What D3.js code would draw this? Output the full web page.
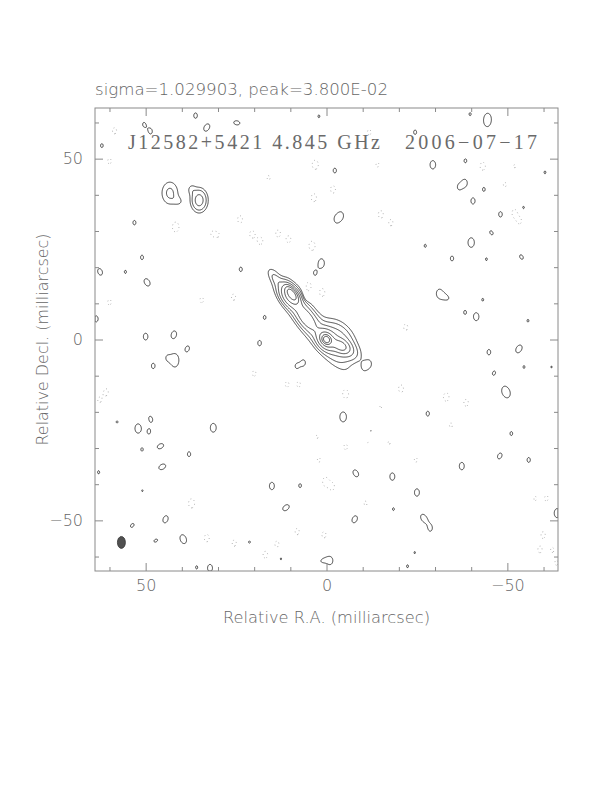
<!DOCTYPE html>
<html>
<head>
<meta charset="utf-8">
<script src="https://cdn.jsdelivr.net/npm/d3@7"></script>
<style>
body { margin: 0; background: #fff; }
</style>
</head>
<body>
<div id="content"></div>
<script>
const map_title = "sigma=1.029903, peak=3.800E-02";
const source_label = "J12582+5421 4.845 GHz";
const date_label = "2006\u221207\u221217";
const x_label = "Relative R.A. (milliarcsec)";
const y_label = "Relative Decl. (milliarcsec)";

const map_extent = [64, -64];
const major_ticks = [50, 0, -50];
const minor_ticks = [60, 40, 30, 20, 10, -10, -20, -30, -40, -60];

// contour levels, in units of the lowest contour
const pos_levels = [1, 2, 4, 8, 16, 32, 64, 128];
const neg_levels = [1];

// restoring beam: major, minor (mas), pa (deg)
const beam = [3.3, 2.2, 0];
const beam_pos = [56.7, -56.1];

// extended emission: ra, dec, peak, major, minor, pa
const jet_components = [
    [0.0, 0.0, 95, 1.6, 1.3, 37],
    [0.0, 0.0, 25, 4.0, 3.0, 37],
    [-4.0, -1.8, 17, 3.6, 2.4, 60],
    [-3.2, -0.1, 6, 8.0, 5.5, 37],
    [-6.5, -3.5, 2, 5.0, 3.5, 60],
    [5.6, 5.9, 10, 6.0, 2.8, 37],
    [9.6, 12.6, 40, 3.0, 1.4, 37],
    [9.9, 11.9, 20, 5.0, 3.0, 37],
    [5.1, 5.5, 4.5, 22, 4.5, 37],
    [13.9, 16.5, 1.5, 4.0, 1.6, 37],
    [43.3, 40.5, 2.35, 5.4, 3.9, 0],
    [41.0, 38.3, 1.0, 2.5, 2.0, 60],
    [35.2, 38.5, 5.5, 4.5, 3.2, 0],
    [37.3, 41.5, 1.2, 2.5, 2.0, 0]
];

// beam sized islands: ra, dec, peak, pa
const pos_islands = [
    [36.2, 61.9, 1.15, 0], [33.1, 58.6, 1.35, -30], [24.8, 59.9, 1.2, 80],
    [2.1, 61.7, 1.04, 0], [-39.7, 62.3, 1.05, 0], [-44.6, 61.4, 1.1, 0],
    [-44.4, 60.0, 1.1, 0], [50.5, 59.5, 1.04, 0], [48.6, 57.5, 1.1, 0],
    [62.1, 53.6, 1.08, 0], [-24.5, 57.3, 1.1, 0], [-29.4, 48.3, 1.4, 0],
    [-2.3, 46.7, 1.12, 0], [-38.4, 49.4, 1.08, 0], [-60.4, 46.2, 1.04, 0],
    [-38.3, 43.3, 1.2, 0], [-36.6, 42.1, 1.03, 0], [-43.5, 41.5, 1.08, 0],
    [-40.5, 38.3, 1.2, 0], [-48.1, 34.6, 1.15, 0], [-54.4, 36.4, 1.08, 0],
    [-45.6, 29.5, 1.1, 30], [-40.0, 26.8, 1.55, 0], [-27.3, 25.9, 1.05, 0],
    [-34.7, 22.4, 1.12, 0], [-44.2, 22.2, 1.04, 0], [-53.9, 22.8, 1.12, 30],
    [-31.2, 12.8, 1.2, 0], [-32.9, 11.7, 1.25, 60], [-43.2, 11.0, 1.04, 0],
    [-38.3, 7.5, 1.08, 0], [-41.4, 6.3, 1.35, 0], [-55.7, 5.2, 1.04, 0],
    [-44.9, -3.5, 1.15, 0], [-53.2, -2.6, 1.4, -30], [-54.6, -7.6, 1.04, 0],
    [-62.2, -7.6, 1.02, 0], [-46.3, -9.3, 1.1, -20], [-10.4, -7.6, 1.04, 0],
    [-11.9, -6.7, 1.04, 0], [47.9, -7.3, 1.15, 0], [44.0, -5.1, 1.05, 0],
    [41.9, -6.4, 1.1, 0], [41.9, -5.1, 1.03, 0], [38.5, -2.6, 1.2, -20],
    [50.0, 0.8, 1.25, 0], [42.2, 1.3, 1.35, -15], [18.5, -1.0, 1.15, 0],
    [17.1, 6.1, 1.08, 0], [6.3, -6.4, 1.1, 0], [8.3, -7.4, 1.04, 0],
    [49.6, 15.8, 1.35, 30], [62.6, 18.7, 1.25, 20], [55.6, 18.7, 1.05, 0],
    [23.7, 19.4, 1.1, 0], [63.7, 5.7, 1.2, 0], [51.0, 22.7, 1.1, 0],
    [53.1, 32.3, 1.1, 0], [-2.7, 33.2, 1.12, 0], [-4.1, 34.3, 1.12, 0],
    [1.4, 21.1, 1.45, 0], [3.2, 18.3, 1.1, 0],
    [48.6, -21.9, 1.12, 20], [52.1, -24.6, 1.5, 0], [49.1, -25.5, 1.1, 0],
    [31.3, -24.4, 1.45, 0], [57.9, -22.8, 1.03, 0], [51.0, -30.4, 1.06, 0],
    [45.9, -29.5, 1.25, -60], [38.0, -31.7, 1.12, 0], [45.4, -35.2, 1.3, -60],
    [63.0, -36.7, 1.05, 0], [50.9, -41.8, 1.02, 0], [44.5, -49.7, 1.3, -20],
    [53.7, -51.4, 1.1, -40], [47.2, -55.6, 1.08, -60], [39.6, -55.2, 1.5, 20],
    [32.2, -63.2, 1.3, 0], [35.9, -63.0, 1.05, 0], [21.3, -56.0, 1.03, 0],
    [12.6, -60.6, 1.03, 0], [15.1, -40.5, 1.3, 0], [7.3, -40.4, 1.08, 0],
    [11.2, -46.5, 1.3, -50], [0.9, -61.1, 1.1, -70], [-1.1, -61.3, 1.1, 0],
    [-4.6, -21.4, 1.6, 0], [-12.2, -25.5, 1.1, 0], [-28.0, -20.5, 1.12, 0],
    [-49.1, -14.0, 1.12, 0], [-50.2, -15.1, 1.03, 0], [-51.1, -26.0, 1.08, 0],
    [-37.4, -35.0, 1.3, 0], [-47.9, -32.2, 1.2, -25], [-55.9, -33.3, 1.12, 0],
    [-8.1, -37.0, 1.3, 30], [-18.2, -37.9, 1.3, 0], [-25.0, -42.3, 1.3, 0],
    [-18.5, -46.9, 1.04, 0], [-55.7, -42.3, 1.04, 0], [-7.8, -49.7, 1.3, -25],
    [-26.9, -49.4, 1.4, 30], [-28.7, -52.2, 1.15, 0], [-63.8, -48.0, 1.5, 0],
    [-24.4, -58.9, 1.02, 0], [-22.4, -62.7, 1.04, 0]
];

const neg_islands = [
    [58.6, 57.7, 1.2, 0], [60.0, 49.3, 1.15, 0], [-11.8, 57.3, 1.15, 0],
    [3.1, 48.3, 1.5, 0], [-14.1, 48.3, 1.1, 0], [-43.2, 47.9, 1.35, 0],
    [-52.0, 47.9, 1.05, 0], [-49.3, 42.8, 1.1, 0], [-1.8, 41.5, 1.3, 0],
    [3.5, 39.2, 1.35, 0], [16.0, 44.7, 1.1, 0], [41.7, 31.1, 1.6, 0],
    [30.8, 29.1, 1.5, 70], [23.9, 33.2, 1.3, 0], [20.6, 29.1, 1.3, 0],
    [18.3, 27.2, 1.35, 0], [13.4, 29.3, 1.25, 0], [10.5, 27.7, 1.25, 0],
    [4.0, 25.9, 1.5, 0], [-15.0, 34.6, 1.3, 0], [-17.8, 32.3, 1.2, 0],
    [-52.0, 35.0, 1.3, 0], [-53.4, 32.8, 1.15, 0], [4.9, 14.9, 1.3, 0],
    [5.8, 11.7, 1.2, 0], [1.2, 13.0, 1.35, 0], [11.9, 19.9, 1.15, 0],
    [25.7, 11.7, 1.2, 0], [34.5, 10.9, 1.15, 0], [60.0, 10.3, 1.15, 0],
    [-21.9, 3.4, 1.2, 0], [20.0, -9.4, 1.15, 0], [37.3, -45.3, 1.5, 0],
    [33.1, -54.9, 1.3, 0], [25.5, -56.3, 1.2, 0], [16.9, -59.5, 1.25, 0],
    [13.7, -56.6, 1.2, 0], [8.1, -53.1, 1.2, 0], [0.7, -54.0, 1.2, 0],
    [0.3, -39.3, 1.4, 0], [-1.6, -40.7, 1.2, 0], [2.1, -33.3, 1.1, 0],
    [2.6, -26.9, 1.05, 0], [10.9, -12.4, 1.15, 0], [7.7, -12.4, 1.15, 0],
    [60.9, -14.5, 1.2, 0], [62.8, -16.8, 1.1, 0], [-5.3, -15.0, 1.5, 0],
    [-5.3, -29.7, 1.15, 0], [-11.5, -28.3, 1.1, 0], [-17.3, -28.6, 1.05, 0],
    [-20.6, -13.6, 1.3, 0], [-15.0, -18.6, 1.05, 0], [-33.1, -15.9, 1.4, 0],
    [-38.6, -17.5, 1.25, 0], [-34.4, -23.7, 1.1, 0], [-24.7, -33.3, 1.1, 0],
    [-57.6, -43.9, 1.15, 0], [-60.8, -43.9, 1.15, 0], [-10.8, -45.3, 1.1, 0],
    [-59.9, -54.0, 1.2, 0], [-59.0, -58.1, 1.2, 0], [-62.4, -58.1, 1.1, 0],
    [-63.6, -61.8, 1.1, 0]
];

const svg_width = 612, svg_height = 792;
const plot_left = 95, plot_right = 558, plot_top = 108, plot_bottom = 571;
const line_grey = "#8a8a8a";
const text_grey = "#666";

var x = d3.scaleLinear().domain(map_extent).range([plot_left, plot_right]);
var y = d3.scaleLinear().domain(map_extent).range([plot_top, plot_bottom]);

var svg = d3
    .select("#content")
    .append("svg")
    .attr("width", svg_width)
    .attr("height", svg_height)
    .style("background", "#fff");

// sample the map on a grid
const step = 0.2;
const n = Math.round((map_extent[0] - map_extent[1]) / step);
var grid = new Float64Array(n * n);

function add_gauss(ra0, dec0, amp, maj, min, pa) {
    var t = pa * Math.PI / 180, s = Math.sin(t), c = Math.cos(t);
    var k = 4 * Math.LN2;
    var r = maj * 2;
    var i0 = Math.max(0, Math.floor((map_extent[0] - ra0 - r) / step));
    var i1 = Math.min(n - 1, Math.ceil((map_extent[0] - ra0 + r) / step));
    var j0 = Math.max(0, Math.floor((map_extent[0] - dec0 - r) / step));
    var j1 = Math.min(n - 1, Math.ceil((map_extent[0] - dec0 + r) / step));
    for (var j = j0; j <= j1; j += 1) {
        var dy = map_extent[0] - (j + 0.5) * step - dec0;
        for (var i = i0; i <= i1; i += 1) {
            var dx = map_extent[0] - (i + 0.5) * step - ra0;
            var a = dx * s + dy * c;
            var b = dx * c - dy * s;
            grid[j * n + i] += amp * Math.exp(-k * (a * a / (maj * maj) + b * b / (min * min)));
        }
    }
}

jet_components.forEach(d => add_gauss(d[0], d[1], d[2], d[3], d[4], d[5]));
pos_islands.forEach(d => add_gauss(d[0], d[1], d[2], beam[0], beam[1], d[3]));
neg_islands.forEach(d => add_gauss(d[0], d[1], -d[2], beam[0], beam[1], d[3]));

var grid_path = d3.geoPath(d3.geoTransform({
    point: function (gx, gy) {
        this.stream.point(x(map_extent[0] - gx * step), y(map_extent[0] - gy * step));
    }
}));

svg.append("clipPath")
    .attr("id", "frame_clip")
    .append("rect")
    .attr("x", plot_left)
    .attr("y", plot_top)
    .attr("width", plot_right - plot_left)
    .attr("height", plot_bottom - plot_top);

var map_g = svg.append("g").attr("clip-path", "url(#frame_clip)");

var pos_contours = d3.contours().size([n, n]).thresholds(pos_levels)(grid);
var neg_contours = d3.contours().size([n, n]).thresholds(neg_levels)(grid.map(v => -v));

map_g.selectAll(".neg")
    .data(neg_contours)
    .enter()
    .append("path")
    .attr("class", "neg")
    .attr("d", grid_path)
    .attr("fill", "none")
    .attr("stroke", "#888")
    .attr("stroke-width", 0.8)
    .attr("stroke-dasharray", "0.8 3");

map_g.selectAll(".pos")
    .data(pos_contours)
    .enter()
    .append("path")
    .attr("class", "pos")
    .attr("d", grid_path)
    .attr("fill", "none")
    .attr("stroke", "#333")
    .attr("stroke-width", 0.9);

// beam
map_g.append("ellipse")
    .attr("cx", x(beam_pos[0]))
    .attr("cy", y(beam_pos[1]))
    .attr("rx", x(0) - x(beam[1] / 2))
    .attr("ry", y(0) - y(beam[0] / 2))
    .attr("transform", "rotate(" + (-beam[2]) + "," + x(beam_pos[0]) + "," + y(beam_pos[1]) + ")")
    .attr("fill", "#505050")
    .attr("stroke", "#333")
    .attr("stroke-width", 0.8);

// frame and ticks
svg.append("rect")
    .attr("x", plot_left)
    .attr("y", plot_top)
    .attr("width", plot_right - plot_left)
    .attr("height", plot_bottom - plot_top)
    .attr("fill", "none")
    .attr("stroke", line_grey)
    .attr("stroke-width", 1);

function tick_axis(axis, pos, values, size, labels, pad) {
    var g = svg.append("g")
        .attr("transform", pos)
        .call(axis.tickValues(values).tickSize(-size).tickPadding(pad)
            .tickFormat(labels ? d3.format("d") : ""));
    g.select(".domain").remove();
    g.selectAll("line").attr("stroke", line_grey);
    g.selectAll("text")
        .attr("fill", text_grey)
        .style("font-family", "DejaVu Sans")
        .style("font-weight", 200)
        .style("font-size", "16px");
    return g;
}

tick_axis(d3.axisBottom(x), "translate(0," + plot_bottom + ")", major_ticks, 8, true, 9);
tick_axis(d3.axisBottom(x), "translate(0," + plot_bottom + ")", minor_ticks, 4, false, 9);
tick_axis(d3.axisTop(x), "translate(0," + plot_top + ")", major_ticks, 8, false, 9);
tick_axis(d3.axisTop(x), "translate(0," + plot_top + ")", minor_ticks, 4, false, 9);
tick_axis(d3.axisLeft(y), "translate(" + plot_left + ",0)", major_ticks, 8, true, 12);
tick_axis(d3.axisLeft(y), "translate(" + plot_left + ",0)", minor_ticks, 4, false, 12);
tick_axis(d3.axisRight(y), "translate(" + plot_right + ",0)", major_ticks, 8, false, 9);
tick_axis(d3.axisRight(y), "translate(" + plot_right + ",0)", minor_ticks, 4, false, 9);

// texts
svg.append("text")
    .attr("x", plot_left)
    .attr("y", 95)
    .attr("textLength", 293)
    .attr("lengthAdjust", "spacingAndGlyphs")
    .attr("fill", text_grey)
    .style("font-family", "DejaVu Sans")
    .style("font-weight", 200)
    .style("font-size", "15px")
    .text(map_title);

svg.append("text")
    .attr("x", 128)
    .attr("y", 149)
    .attr("textLength", 252)
    .attr("lengthAdjust", "spacing")
    .attr("fill", "#6a6a6a")
    .style("font-family", "Liberation Serif")
    .style("font-size", "20px")
    .text(source_label);

svg.append("text")
    .attr("x", 405)
    .attr("y", 149)
    .attr("textLength", 132)
    .attr("lengthAdjust", "spacing")
    .attr("fill", "#6a6a6a")
    .style("font-family", "Liberation Serif")
    .style("font-size", "20px")
    .text(date_label);

svg.append("text")
    .attr("x", (plot_left + plot_right) / 2)
    .attr("y", 623)
    .attr("text-anchor", "middle")
    .attr("textLength", 207)
    .attr("lengthAdjust", "spacingAndGlyphs")
    .attr("fill", text_grey)
    .style("font-family", "DejaVu Sans")
    .style("font-weight", 200)
    .style("font-size", "15px")
    .text(x_label);

svg.append("text")
    .attr("transform", "translate(48," + (plot_top + plot_bottom) / 2 + ") rotate(-90)")
    .attr("text-anchor", "middle")
    .attr("textLength", 212)
    .attr("lengthAdjust", "spacingAndGlyphs")
    .attr("fill", text_grey)
    .style("font-family", "DejaVu Sans")
    .style("font-weight", 200)
    .style("font-size", "15px")
    .text(y_label);
</script>
</body>
</html>
